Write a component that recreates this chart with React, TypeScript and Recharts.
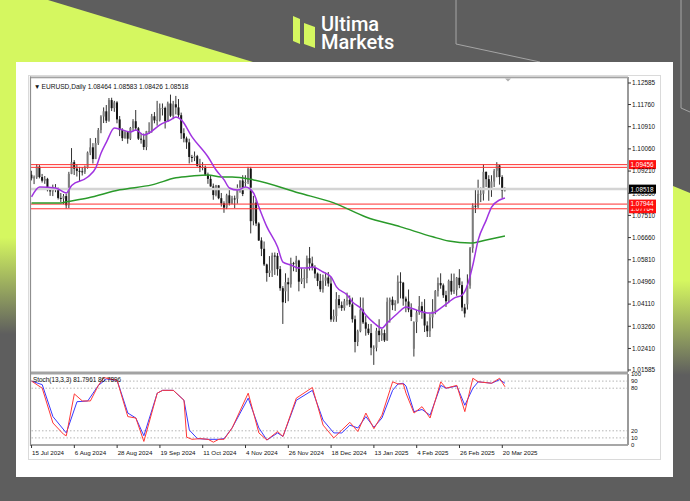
import React from "react";
import { ComposedChart, LineChart, Bar, Line, XAxis, YAxis, ReferenceLine } from "recharts";

// ---------- categories / ticks ----------
const dateTickIndex = [0, 16, 32, 48, 64, 80, 96, 112, 128, 144, 160, 176];
const dateTickLabels = ["15 Jul 2024", "6 Aug 2024", "28 Aug 2024", "19 Sep 2024", "11 Oct 2024", "4 Nov 2024", "26 Nov 2024", "18 Dec 2024", "13 Jan 2025", "4 Feb 2025", "26 Feb 2025", "20 Mar 2025"];
const priceTicks = [1.12585, 1.1176, 1.1091, 1.1006, 1.0921, 1.0836, 1.0751, 1.0666, 1.0581, 1.0496, 1.0411, 1.0326, 1.0241, 1.01585];
const stochTicks = [0, 10, 20, 80, 90, 100];
const stochLevels = [90, 80, 20, 10];

// ---------- OHLC (EURUSD daily) ----------
const opens = [
  1.0907, 1.0893, 1.0897, 1.0938, 1.0898, 1.0884, 1.0891, 1.0848, 1.0843, 1.0849,
  1.0855, 1.0818, 1.0815, 1.0825, 1.079, 1.091, 1.0955, 1.093, 1.0922, 1.092,
  1.0918, 1.0933, 1.0992, 1.1012, 1.0967, 1.1028, 1.1078, 1.113, 1.115, 1.1114,
  1.1193, 1.1162, 1.1184, 1.1119, 1.1078, 1.1047, 1.107, 1.1045, 1.1086, 1.1112,
  1.1085, 1.1045, 1.1041, 1.1013, 1.1074, 1.1075, 1.1131, 1.1115, 1.1117, 1.1162,
  1.1163, 1.1112, 1.118, 1.1133, 1.1177, 1.1165, 1.1135, 1.1066, 1.1046, 1.1031,
  1.0975, 1.0973, 1.0978, 1.0941, 1.0935, 1.0937, 1.0907, 1.0891, 1.0862, 1.0829,
  1.0866, 1.0817, 1.0797, 1.0781, 1.0828, 1.0797, 1.0816, 1.0815, 1.0856, 1.0885,
  1.0875, 1.0879, 1.093, 1.0729, 1.08, 1.072, 1.0655, 1.0623, 1.0563, 1.053,
  1.054, 1.0597, 1.0596, 1.0545, 1.0472, 1.046, 1.0495, 1.0487, 1.0568, 1.0565,
  1.0578, 1.0497, 1.051, 1.0511, 1.0587, 1.0567, 1.0553, 1.0528, 1.05, 1.0468,
  1.0501, 1.0513, 1.049, 1.0352, 1.0365, 1.043, 1.0407, 1.0396, 1.0422, 1.0427,
  1.041, 1.0353, 1.0266, 1.0307, 1.039, 1.0341, 1.0317, 1.03, 1.0244, 1.0244,
  1.0309, 1.0292, 1.03, 1.0272, 1.042, 1.0428, 1.0407, 1.0415, 1.0497, 1.0493,
  1.0432, 1.0421, 1.039, 1.024, 1.0342, 1.0379, 1.0403, 1.0382, 1.0329, 1.0307,
  1.036, 1.0384, 1.0461, 1.0492, 1.0483, 1.0445, 1.0422, 1.05, 1.0459, 1.0465,
  1.0512, 1.0484, 1.0398, 1.041, 1.0482, 1.0625, 1.0788, 1.0785, 1.0833, 1.0834,
  1.0918, 1.089, 1.085, 1.0881, 1.0922, 1.0943, 1.0898, 1.08464,
];
const highs = [
  1.0922, 1.0904, 1.0948, 1.0944, 1.091, 1.0902, 1.0895, 1.0856, 1.0869, 1.0871,
  1.0858, 1.0837, 1.0833, 1.0834, 1.0918, 1.1009, 1.0963, 1.0948, 1.0937, 1.0935,
  1.0942, 1.0996, 1.1047, 1.1028, 1.1048, 1.1086, 1.1135, 1.1165, 1.1174, 1.1201,
  1.1202, 1.119, 1.1189, 1.1132, 1.1085, 1.1075, 1.1075, 1.109, 1.112, 1.1155,
  1.109, 1.1067, 1.1065, 1.1075, 1.1108, 1.114, 1.1147, 1.119, 1.118, 1.118,
  1.1168, 1.1187, 1.1214, 1.119, 1.1209, 1.1197, 1.1145, 1.1085, 1.1053, 1.1045,
  1.0983, 1.0996, 1.0983, 1.0968, 1.0955, 1.0942, 1.0915, 1.0902, 1.0873, 1.0868,
  1.0867, 1.0837, 1.0805, 1.0834, 1.0849, 1.0826, 1.0827, 1.087, 1.0885, 1.0905,
  1.0905, 1.0937, 1.0937, 1.0826, 1.0811, 1.0725, 1.0667, 1.0651, 1.0566, 1.0595,
  1.0608, 1.0609, 1.0607, 1.0557, 1.048, 1.0529, 1.0512, 1.0589, 1.0573, 1.0596,
  1.0581, 1.0549, 1.0545, 1.0597, 1.063, 1.0593, 1.056, 1.0532, 1.0527, 1.0524,
  1.0532, 1.0534, 1.0515, 1.039, 1.0457, 1.0446, 1.0421, 1.0431, 1.0455, 1.0444,
  1.0436, 1.0367, 1.0313, 1.0437, 1.0436, 1.0365, 1.0335, 1.0335, 1.0253, 1.032,
  1.0353, 1.0316, 1.0313, 1.0436, 1.0436, 1.044, 1.0426, 1.0521, 1.0533, 1.0496,
  1.044, 1.0467, 1.0414, 1.0345, 1.0389, 1.0442, 1.042, 1.043, 1.0345, 1.0375,
  1.043, 1.0465, 1.0513, 1.0529, 1.049, 1.0462, 1.0505, 1.0528, 1.0528, 1.0515,
  1.0545, 1.0498, 1.0412, 1.0525, 1.063, 1.0797, 1.0855, 1.0888, 1.0858, 1.0947,
  1.0919, 1.0905, 1.0905, 1.0929, 1.0955, 1.0945, 1.0905, 1.08583,
];
const lows = [
  1.0885, 1.0871, 1.0891, 1.0893, 1.0877, 1.0872, 1.0843, 1.0826, 1.0825, 1.084,
  1.0812, 1.0802, 1.0794, 1.0777, 1.0779, 1.0909, 1.0906, 1.09, 1.0881, 1.0904,
  1.091, 1.093, 1.0982, 1.095, 1.0967, 1.1021, 1.1066, 1.1105, 1.1105, 1.111,
  1.1151, 1.1148, 1.1104, 1.1055, 1.1036, 1.1045, 1.1026, 1.104, 1.1076, 1.1076,
  1.104, 1.1026, 1.1002, 1.1001, 1.1063, 1.1068, 1.1104, 1.1095, 1.1111, 1.1134,
  1.1084, 1.111, 1.1128, 1.112, 1.1138, 1.1124, 1.1044, 1.1031, 1.1006, 1.095,
  1.0955, 1.0959, 1.0938, 1.0917, 1.0924, 1.0902, 1.0872, 1.0861, 1.0811, 1.0824,
  1.0813, 1.0785, 1.0761, 1.0775, 1.0789, 1.0794, 1.0779, 1.0796, 1.0838, 1.0825,
  1.086, 1.0871, 1.0682, 1.0713, 1.071, 1.0653, 1.0595, 1.0557, 1.0497, 1.0515,
  1.0515, 1.0523, 1.052, 1.0462, 1.0335, 1.0415, 1.0422, 1.0474, 1.0537, 1.0534,
  1.046, 1.0488, 1.0472, 1.0491, 1.054, 1.054, 1.051, 1.048, 1.0458, 1.0455,
  1.0481, 1.0478, 1.0343, 1.0343, 1.0343, 1.0395, 1.0385, 1.0386, 1.0406, 1.04,
  1.034, 1.0226, 1.025, 1.0303, 1.0335, 1.029, 1.0293, 1.0215, 1.0178, 1.023,
  1.0266, 1.027, 1.0266, 1.027, 1.034, 1.0388, 1.0385, 1.0413, 1.0433, 1.0405,
  1.038, 1.038, 1.0346, 1.021, 1.03, 1.037, 1.0355, 1.0304, 1.0285, 1.0285,
  1.0318, 1.0372, 1.044, 1.047, 1.0435, 1.04, 1.0415, 1.0447, 1.045, 1.0443,
  1.0472, 1.0384, 1.036, 1.039, 1.047, 1.0608, 1.076, 1.0779, 1.0802, 1.0808,
  1.086, 1.0807, 1.0822, 1.086, 1.0897, 1.0869, 1.0818, 1.08426,
];
const closes = [
  1.0893, 1.0897, 1.0938, 1.0898, 1.0884, 1.0891, 1.0848, 1.0843, 1.0849, 1.0855,
  1.0818, 1.0815, 1.0825, 1.079, 1.091, 1.0955, 1.093, 1.0922, 1.092, 1.0918,
  1.0933, 1.0992, 1.1012, 1.0967, 1.1028, 1.1078, 1.113, 1.115, 1.1114, 1.1193,
  1.1162, 1.1184, 1.1119, 1.1078, 1.1047, 1.107, 1.1045, 1.1086, 1.1112, 1.1085,
  1.1045, 1.1041, 1.1013, 1.1074, 1.1075, 1.1131, 1.1115, 1.1117, 1.1162, 1.1163,
  1.1112, 1.118, 1.1133, 1.1177, 1.1165, 1.1135, 1.1066, 1.1046, 1.1031, 1.0975,
  1.0973, 1.0978, 1.0941, 1.0935, 1.0937, 1.0907, 1.0891, 1.0862, 1.0829, 1.0866,
  1.0817, 1.0797, 1.0781, 1.0828, 1.0797, 1.0816, 1.0815, 1.0856, 1.0885, 1.0833,
  1.0879, 1.093, 1.0729, 1.08, 1.072, 1.0655, 1.0623, 1.0563, 1.053, 1.054,
  1.0597, 1.0596, 1.0545, 1.0472, 1.0418, 1.0495, 1.0487, 1.0568, 1.0565, 1.0578,
  1.0497, 1.051, 1.0511, 1.0587, 1.0567, 1.0553, 1.0528, 1.05, 1.0468, 1.0501,
  1.0513, 1.049, 1.0352, 1.0365, 1.043, 1.0407, 1.0396, 1.0422, 1.0427, 1.041,
  1.0353, 1.0266, 1.0307, 1.039, 1.0341, 1.0317, 1.03, 1.0244, 1.0244, 1.0309,
  1.0292, 1.03, 1.0272, 1.042, 1.0428, 1.0407, 1.0415, 1.0497, 1.0493, 1.0432,
  1.0421, 1.039, 1.0362, 1.0342, 1.0379, 1.0403, 1.0382, 1.0329, 1.0307, 1.036,
  1.0384, 1.0461, 1.0492, 1.0483, 1.0445, 1.0422, 1.05, 1.0459, 1.0465, 1.0512,
  1.0484, 1.0398, 1.0375, 1.0482, 1.0625, 1.0788, 1.0785, 1.0833, 1.0834, 1.0918,
  1.089, 1.085, 1.0881, 1.0922, 1.0943, 1.0898, 1.0846, 1.08518,
];

// ---------- moving averages ----------
const fastMaIdx = [0, 3, 9, 13, 15, 21, 24, 26, 28, 31, 33, 37, 39, 42, 44, 48, 52, 54, 56, 60, 66, 69, 72, 74, 77, 80, 83, 85, 88, 92, 94, 97, 100, 103, 105, 109, 112, 114, 118, 120, 123, 125, 128, 131, 133, 137, 140, 144, 148, 150, 153, 156, 158, 161, 163, 165, 167, 170, 172, 175, 177];
const fastMaVal = [1.0822, 1.086, 1.0856, 1.0837, 1.0866, 1.0898, 1.0933, 1.099, 1.1032, 1.1086, 1.1082, 1.1071, 1.1078, 1.1059, 1.1067, 1.1098, 1.1117, 1.1128, 1.1117, 1.1052, 1.0975, 1.0925, 1.0887, 1.0856, 1.0848, 1.086, 1.0837, 1.0783, 1.0707, 1.063, 1.0572, 1.0561, 1.0549, 1.0549, 1.0553, 1.0534, 1.0515, 1.0477, 1.0446, 1.0419, 1.0396, 1.0369, 1.0339, 1.0319, 1.0339, 1.0377, 1.04, 1.0388, 1.0377, 1.0377, 1.0396, 1.0419, 1.0434, 1.0446, 1.0484, 1.0561, 1.0657, 1.0733, 1.0783, 1.081, 1.0818];
const slowMaIdx = [0, 11, 13, 21, 33, 45, 54, 60, 66, 71, 75, 83, 100, 113, 125, 138, 150, 156, 164, 170, 177];
const slowMaVal = [1.0799, 1.0799, 1.0803, 1.0818, 1.0849, 1.0868, 1.0895, 1.0902, 1.0906, 1.0898, 1.0898, 1.0887, 1.0837, 1.0799, 1.0745, 1.0707, 1.0669, 1.0653, 1.0645, 1.0657, 1.0672];

// ---------- horizontal levels ----------
const resistanceLevels = [1.09456, 1.09352];
const supportLevels = [1.07944, 1.07764];
const lastPrice = 1.08518;

// ---------- stochastic (13,3,3) ----------
const stochKIdx = [0, 4, 8, 12, 13, 16, 19, 22, 25, 27, 32, 36, 39, 42, 47, 49, 53, 57, 58, 60, 63, 66, 68, 70, 72, 75, 81, 85, 88, 92, 94, 99, 105, 109, 113, 116, 119, 122, 125, 128, 131, 135, 137, 139, 140, 143, 146, 149, 153, 155, 159, 162, 165, 167, 172, 175, 177];
const stochKVal = [90, 80, 31, 15, 13, 72, 62, 62, 84, 95, 91, 40, 38, 5, 73, 77, 77, 63, 11, 8, 9, 8, 4, 8, 8, 24, 73, 17, 7, 19, 12, 66, 81, 28, 10, 21, 32, 19, 45, 23, 42, 89, 86, 86, 73, 45, 54, 38, 89, 80, 84, 47, 94, 89, 87, 94, 82];
const stochDIdx = [0, 4, 8, 13, 17, 21, 25, 28, 32, 36, 39, 42, 47, 49, 53, 57, 59, 62, 66, 70, 72, 75, 81, 85, 88, 92, 94, 99, 105, 109, 113, 116, 119, 122, 125, 128, 131, 135, 137, 139, 140, 143, 146, 149, 153, 155, 159, 162, 165, 167, 172, 175, 177];
const stochDVal = [90, 85, 40, 17, 61, 62, 84, 93, 91, 45, 38, 13, 73, 77, 77, 63, 21, 9, 8, 8, 9, 24, 66, 24, 7, 17, 12, 63, 77, 35, 17, 17, 28, 24, 40, 25, 38, 77, 86, 87, 83, 47, 50, 42, 84, 80, 83, 56, 80, 89, 87, 92, 87];

const pick = (idx: number[], vals: number[], i: number) => {
  const m = idx.indexOf(i);
  return m >= 0 ? vals[m] : null;
};

const data = opens.map((o, i) => ({
  i,
  o,
  h: highs[i],
  l: lows[i],
  c: closes[i],
  range: [lows[i], highs[i]],
  fast: pick(fastMaIdx, fastMaVal, i),
  slow: pick(slowMaIdx, slowMaVal, i),
  k: pick(stochKIdx, stochKVal, i),
  d: pick(stochDIdx, stochDVal, i),
}));

const FONT = "'Liberation Sans', Arial, sans-serif";
const LIME = "#d5f760";
const GRAY = "#5e5e5e";

const Candle = (props: any) => {
  const { x, y, width, height, payload } = props;
  if (!payload || height == null) return null;
  const { o, h, l, c } = payload;
  const span = h - l;
  const k = span > 0 ? height / span : 0;
  const cx = x + width / 2;
  const top = y + (h - Math.max(o, c)) * k;
  const bot = y + (h - Math.min(o, c)) * k;
  const bull = c >= o;
  return (
    <g>
      <line x1={cx} x2={cx} y1={y} y2={y + height} stroke="#333" strokeWidth={1} />
      <rect x={cx - 1} y={top} width={2} height={Math.max(1, bot - top)} fill={bull ? "#7c7c7c" : "#141414"} />
    </g>
  );
};

const priceTag = (value: number, bg: string, fg: string) => (props: any) => {
  const vb = props.viewBox || {};
  const x = (vb.x || 0) + (vb.width || 0);
  const y = vb.y || 0;
  return (
    <g>
      <rect x={x + 1} y={y - 4.5} width={27} height={9} fill={bg} />
      <text x={x + 2.5} y={y + 2.4} fontSize={6.4} fill={fg} fontFamily={FONT}>
        {value.toFixed(5)}
      </text>
    </g>
  );
};

const DateTick = (props: any) => {
  const { x, y, payload } = props;
  const m = dateTickIndex.indexOf(payload.value);
  const label = m >= 0 ? dateTickLabels[m] : "";
  return (
    <g>
      <line x1={x} x2={x} y1={y} y2={y + 3} stroke="#333" strokeWidth={1} />
      <text x={x + 0.5} y={y + 9.5} fontSize={6.2} fill="#111" fontFamily={FONT} textAnchor="start">
        {label}
      </text>
    </g>
  );
};

const X_DOMAIN: [number, number] = [-0.2, 223];

export default function App() {
  const last = opens.length - 1;
  const header = `EURUSD,Daily  ${opens[last].toFixed(5)} ${highs[last].toFixed(5)} ${lows[last].toFixed(5)} ${closes[last].toFixed(5)}`;
  return (
    <div style={{ position: "absolute", left: 0, top: 0, width: 690, height: 501, background: GRAY, overflow: "hidden", fontFamily: FONT }}>
      {/* background decorations */}
      <svg width={690} height={501} style={{ position: "absolute", left: 0, top: 0 }}>
        <defs>
          <linearGradient id="leftFade" x1="0" y1="62" x2="0" y2="501" gradientUnits="userSpaceOnUse">
            <stop offset="0" stopColor={LIME} />
            <stop offset="0.4" stopColor={LIME} />
            <stop offset="0.62" stopColor={GRAY} />
          </linearGradient>
          <linearGradient id="rightFade" x1="0" y1="186" x2="0" y2="501" gradientUnits="userSpaceOnUse">
            <stop offset="0" stopColor={LIME} />
            <stop offset="0.3" stopColor={LIME} />
            <stop offset="0.6" stopColor={GRAY} />
          </linearGradient>
        </defs>
        <polygon points="0,0 48,0 253,62 0,62" fill={LIME} />
        <rect x={0} y={62} width={16} height={439} fill="url(#leftFade)" />
        <polygon points="673,186 690,193 690,501 673,501" fill="url(#rightFade)" />
        <polyline points="456,0 456,44 540,62" fill="none" stroke="#a5a5a5" strokeWidth={1} />
        <polyline points="681,0 681,108 690,112" fill="none" stroke="#a5a5a5" strokeWidth={1} />
        {/* logo */}
        <polygon points="293,16 300,19 300,44 293,41" fill={LIME} />
        <polygon points="304,23 315,27 315,48 304,44" fill={LIME} />
        <text x={321} y={31} fontSize={20} fill="#ffffff" fontFamily="Roboto, Arial" fontWeight={500}>Ultima</text>
        <text x={321} y={49} fontSize={20} fill="#ffffff" fontFamily="Roboto, Arial" fontWeight={500}>Markets</text>
        {/* card */}
        <rect x={16} y={62} width={657} height={415} fill="#ffffff" />
        <rect x={28.5} y={75.5} width={632} height={384} fill="none" stroke="#dadada" strokeWidth={1} />
      </svg>

      {/* main price chart */}
      <div style={{ position: "absolute", left: 0, top: 0 }}>
        <ComposedChart width={690} height={501} data={data} margin={{ top: 77, left: 31, right: 32, bottom: 129 }}>
          <XAxis dataKey="i" type="number" domain={X_DOMAIN} hide allowDataOverflow />
          <YAxis
            orientation="right"
            width={30}
            domain={[1.01508, 1.12815]}
            ticks={priceTicks}
            interval={0}
            allowDataOverflow
            tickFormatter={(v: number) => v.toFixed(5)}
            tick={{ fontSize: 6.4, fill: "#111", fontFamily: FONT }}
            tickLine={{ stroke: "#333" }}
            tickSize={3}
            tickMargin={1}
            axisLine={{ stroke: "#9a9a9a", strokeWidth: 2 }}
          />
          <ReferenceLine y={lastPrice} stroke="#d4d4d4" strokeWidth={2.5} label={priceTag(lastPrice, "#000000", "#ffffff")} />
          <ReferenceLine y={resistanceLevels[1]} stroke="#ff3030" strokeWidth={1} />
          <ReferenceLine y={resistanceLevels[0]} stroke="#ff3030" strokeWidth={1} label={priceTag(resistanceLevels[0], "#ff1010", "#ffffff")} />
          <ReferenceLine y={supportLevels[1]} stroke="#ff3030" strokeWidth={1} label={priceTag(supportLevels[1], "#ff1010", "#ffffff")} />
          <ReferenceLine y={supportLevels[0]} stroke="#ff3030" strokeWidth={1} label={priceTag(supportLevels[0], "#ff1010", "#ffffff")} />
          <Line dataKey="slow" type="monotone" stroke="#2a9a2a" strokeWidth={1.5} dot={false} connectNulls isAnimationActive={false} />
          <Bar dataKey="range" shape={<Candle />} barSize={3} isAnimationActive={false} />
          <Line dataKey="fast" type="monotone" stroke="#a034e0" strokeWidth={1.5} dot={false} connectNulls isAnimationActive={false} />
        </ComposedChart>
      </div>

      {/* stochastic sub-window */}
      <div style={{ position: "absolute", left: 0, top: 0 }}>
        <LineChart width={690} height={501} data={data} margin={{ top: 374, left: 31, right: 32, bottom: 42 }}>
          <XAxis
            dataKey="i"
            type="number"
            domain={X_DOMAIN}
            allowDataOverflow
            ticks={dateTickIndex}
            interval={0}
            height={14}
            tickSize={0}
            tickMargin={0}
            tickLine={false}
            tick={<DateTick />}
            axisLine={{ stroke: "#8a8a8a", strokeWidth: 1.5 }}
          />
          <YAxis
            orientation="right"
            width={30}
            domain={[0, 100]}
            ticks={stochTicks}
            interval={0}
            tick={{ fontSize: 6, fill: "#111", fontFamily: FONT }}
            tickLine={false}
            tickSize={2}
            tickMargin={1}
            axisLine={{ stroke: "#9a9a9a", strokeWidth: 2 }}
          />
          {stochLevels.map((lv) => (
            <ReferenceLine key={lv} y={lv} stroke="#b5b5b5" strokeDasharray="1.5 2" strokeWidth={1} />
          ))}
          <Line dataKey="d" type="linear" stroke="#3838ff" strokeWidth={1} dot={false} connectNulls isAnimationActive={false} />
          <Line dataKey="k" type="linear" stroke="#ff3838" strokeWidth={1} dot={false} connectNulls isAnimationActive={false} />
        </LineChart>
      </div>

      {/* frames and captions */}
      <svg width={690} height={501} style={{ position: "absolute", left: 0, top: 0, pointerEvents: "none" }}>
        <rect x={30} y={76.5} width={598} height={1.8} fill="#a3a3a3" />
        <rect x={30} y={371.5} width={598} height={3} fill="#a3a3a3" />
        <line x1={30.5} x2={30.5} y1={76.5} y2={446} stroke="#8e8e8e" strokeWidth={1.2} />
        <polygon points="505,78.5 511,78.5 508,81.5" fill="#b0b0b0" />
        <text x={34} y={89} fontSize={6.4} fill="#111" fontFamily={FONT}>{"\u25BC"}</text>
        <text x={41.5} y={89} fontSize={6.6} fill="#111" fontFamily={FONT}>{header}</text>
        <text x={33} y={382} fontSize={6.4} fill="#111" fontFamily={FONT}>Stoch(13,3,3) 81.7961 86.7896</text>
      </svg>
    </div>
  );
}
